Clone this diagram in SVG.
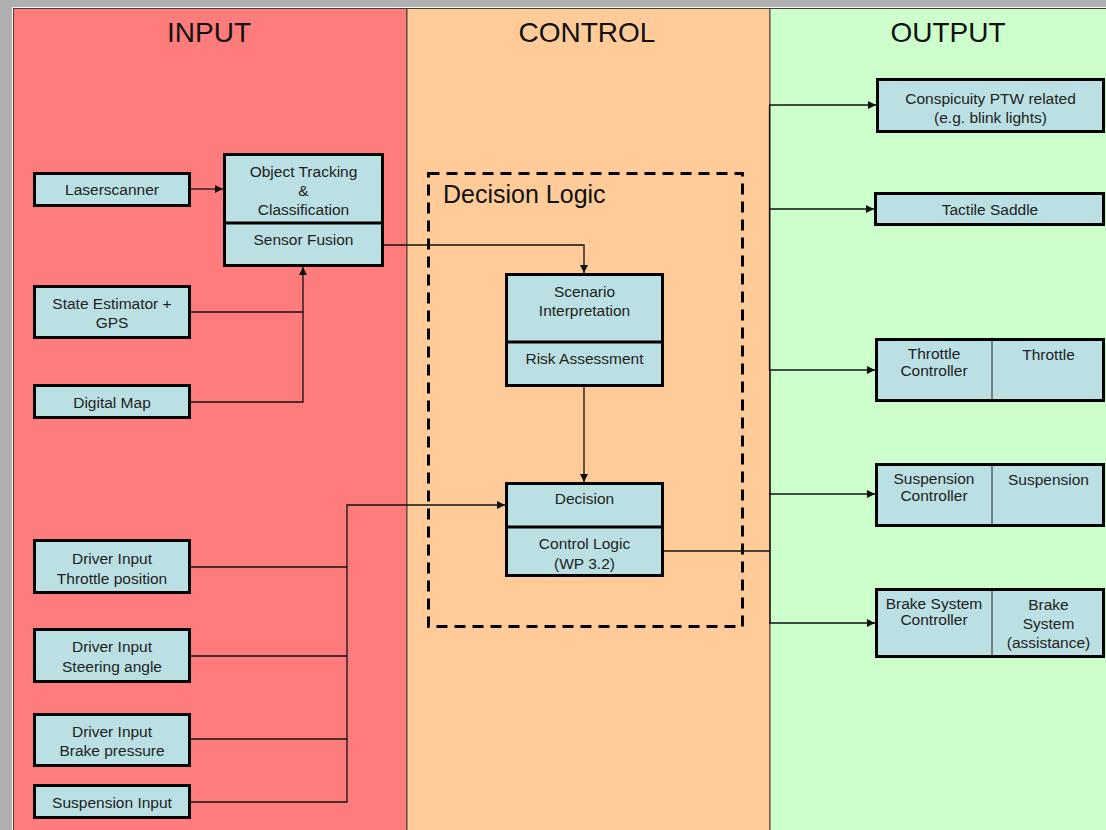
<svg xmlns="http://www.w3.org/2000/svg" width="1106" height="830" viewBox="0 0 1106 830">
<defs>
<marker id="ah" markerUnits="userSpaceOnUse" markerWidth="9" markerHeight="9" refX="8" refY="4" orient="auto">
<path d="M0,0 L8,4 L0,8 z" fill="#111"/>
</marker>
<style>
.box{fill:#BBE0E3;stroke:#000;stroke-width:3}
.div{stroke:#000;stroke-width:3}
.thin{stroke:#222;stroke-width:1}
.t{font-family:"Liberation Sans",Arial,sans-serif;font-size:15.5px;fill:#222;text-anchor:middle}
.title{font-family:"Liberation Sans",Arial,sans-serif;font-size:28px;fill:#111;text-anchor:middle}
.c{fill:none;stroke:#111;stroke-width:1.3}
.ca{fill:none;stroke:#111;stroke-width:1.3;marker-end:url(#ah)}
</style>
</defs>
<rect x="0" y="0" width="1106" height="830" fill="#b0b0b0"/>
<g id="panels">
<rect x="12" y="7" width="1094" height="823" fill="#ffffff"/>
<rect x="13.5" y="8.5" width="393.5" height="822" fill="#FF7C7C" stroke="#4a3a30" stroke-width="1"/>
<rect x="407" y="8.5" width="363" height="822" fill="#FFCC99" stroke="#4a3a30" stroke-width="1"/>
<rect x="770" y="8.5" width="337" height="822" fill="#CCFFCC" stroke="#4a3a30" stroke-width="1"/>
<text class="title" x="209" y="42">INPUT</text>
<text class="title" x="587" y="42">CONTROL</text>
<text class="title" x="948" y="42">OUTPUT</text>
</g>
<g id="decision-logic">
<rect x="428.5" y="173.5" width="314" height="453" fill="none" stroke="#000" stroke-width="3" stroke-dasharray="11 7"/>
<text x="443" y="203" font-family="Liberation Sans, Arial, sans-serif" font-size="25" fill="#111">Decision Logic</text>
</g>
<g id="connectors">
<path class="ca" d="M191,189 H223"/>
<path class="ca" d="M384,245 H584 V273"/>
<path class="c" d="M190,312 H303"/>
<path class="ca" d="M190,402 H303 V267"/>
<path class="ca" d="M584,387 V482"/>
<path class="c" d="M190,567 H347"/>
<path class="c" d="M190,656 H347"/>
<path class="c" d="M190,739 H347"/>
<path class="ca" d="M190,802 H347 V505 H505"/>
<path class="c" d="M664,551 H770"/>
<path class="c" d="M769.5,105 V370"/>
<path class="c" d="M770,370 V623" stroke-width="2.2"/>
<path class="ca" d="M769,105 H876"/>
<path class="ca" d="M769,209 H874"/>
<path class="ca" d="M769,370 H875"/>
<path class="ca" d="M769,494 H875"/>
<path class="ca" d="M769,623 H875"/>
</g>
<g id="laserscanner">
<rect class="box" x="34.5" y="173.5" width="155" height="32"/>
<text class="t" x="112" y="195">Laserscanner</text>
</g>
<g id="object-tracking">
<rect class="box" x="224.5" y="154.5" width="158" height="111"/>
<line class="div" x1="224.5" y1="223" x2="382.5" y2="223"/>
<text class="t" x="303.5" y="176.5">Object Tracking</text>
<text class="t" x="303.5" y="195.5">&amp;</text>
<text class="t" x="303.5" y="214.5">Classification</text>
<text class="t" x="303.5" y="244.5">Sensor Fusion</text>
</g>
<g id="state-estimator">
<rect class="box" x="34.5" y="286.5" width="155" height="51"/>
<text class="t" x="112" y="308.5">State Estimator +</text>
<text class="t" x="112" y="327.5">GPS</text>
</g>
<g id="digital-map">
<rect class="box" x="34.5" y="385.5" width="155" height="32"/>
<text class="t" x="112" y="407.5">Digital Map</text>
</g>
<g id="driver-throttle">
<rect class="box" x="34.5" y="540.5" width="155" height="52"/>
<text class="t" x="112" y="563.5">Driver Input</text>
<text class="t" x="112" y="583.5">Throttle position</text>
</g>
<g id="driver-steering">
<rect class="box" x="34.5" y="629.5" width="155" height="52"/>
<text class="t" x="112" y="651.5">Driver Input</text>
<text class="t" x="112" y="671.5">Steering angle</text>
</g>
<g id="driver-brake">
<rect class="box" x="34.5" y="714.5" width="155" height="51"/>
<text class="t" x="112" y="736.5">Driver Input</text>
<text class="t" x="112" y="755.5">Brake pressure</text>
</g>
<g id="suspension-input">
<rect class="box" x="34.5" y="785.5" width="155" height="32"/>
<text class="t" x="112" y="807.5">Suspension Input</text>
</g>
<g id="scenario">
<rect class="box" x="506.5" y="274.5" width="156" height="111"/>
<line class="div" x1="506.5" y1="342" x2="662.5" y2="342"/>
<text class="t" x="584.5" y="296.5">Scenario</text>
<text class="t" x="584.5" y="315.5">Interpretation</text>
<text class="t" x="584.5" y="363.5">Risk Assessment</text>
</g>
<g id="decision">
<rect class="box" x="506.5" y="483.5" width="156" height="92"/>
<line class="div" x1="506.5" y1="527" x2="662.5" y2="527"/>
<text class="t" x="584.5" y="503.5">Decision</text>
<text class="t" x="584.5" y="548.5">Control Logic</text>
<text class="t" x="584.5" y="568.5">(WP 3.2)</text>
</g>
<g id="conspicuity">
<rect class="box" x="877.5" y="79.5" width="226" height="52"/>
<text class="t" x="990.5" y="103.5">Conspicuity PTW related</text>
<text class="t" x="990.5" y="122.5">(e.g. blink lights)</text>
</g>
<g id="tactile-saddle">
<rect class="box" x="875.5" y="193.5" width="228" height="31"/>
<text class="t" x="990" y="214.5">Tactile Saddle</text>
</g>
<g id="throttle">
<rect class="box" x="876.5" y="339.5" width="227" height="61"/>
<line class="thin" x1="992" y1="339.5" x2="992" y2="400.5"/>
<text class="t" x="934" y="358.5">Throttle</text>
<text class="t" x="934" y="375.5">Controller</text>
<text class="t" x="1048.5" y="359.5">Throttle</text>
</g>
<g id="suspension">
<rect class="box" x="876.5" y="464.5" width="227" height="61"/>
<line class="thin" x1="992" y1="464.5" x2="992" y2="525.5"/>
<text class="t" x="934" y="483.5">Suspension</text>
<text class="t" x="934" y="500.5">Controller</text>
<text class="t" x="1048.5" y="484.5">Suspension</text>
</g>
<g id="brake">
<rect class="box" x="876.5" y="589.5" width="227" height="67"/>
<line class="thin" x1="992" y1="589.5" x2="992" y2="656.5"/>
<text class="t" x="934" y="608.5">Brake System</text>
<text class="t" x="934" y="625">Controller</text>
<text class="t" x="1048.5" y="609.5">Brake</text>
<text class="t" x="1048.5" y="628.5">System</text>
<text class="t" x="1048.5" y="647.5">(assistance)</text>
</g>
</svg>
